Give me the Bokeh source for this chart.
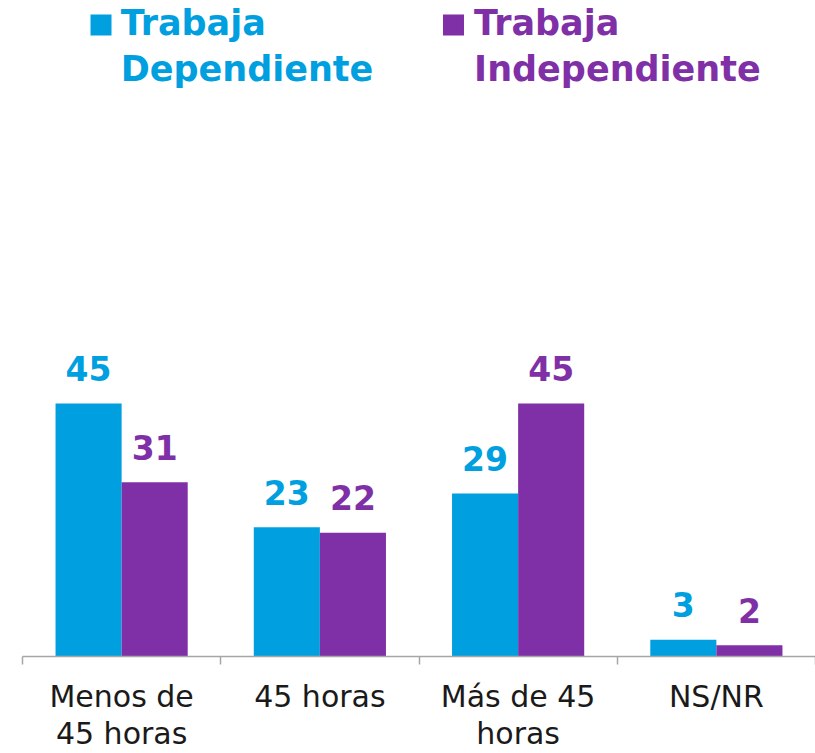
from bokeh.plotting import figure
from bokeh.models import Range1d, LinearAxis, FixedTicker, ColumnDataSource
from bokeh.transform import dodge
from bokeh.core.properties import value
from bokeh.embed import file_html
from bokeh.resources import INLINE

# ---- data ----
categories = ["Menos de\n45 horas", "45 horas", "Más de 45\nhoras", "NS/NR"]
series_names = ["Trabaja\nDependiente", "Trabaja\nIndependiente"]
dependiente = [45, 23, 29, 3]
independiente = [31, 22, 45, 2]
colors = ["#00A0E0", "#7F30A6"]

FONT = "DejaVu Sans"
n = len(categories)
PX_PER_UNIT = 253 / 45.0
FRAME_H = 656
FRAME_W = 793

centers = [i + 0.5 for i in range(n)]
src = ColumnDataSource(dict(
    cx=centers,
    dep=dependiente,
    ind=independiente,
    dep_lbl=[str(v) for v in dependiente],
    ind_lbl=[str(v) for v in independiente],
))

p = figure(frame_width=FRAME_W, frame_height=FRAME_H,
           x_range=Range1d(0, n),
           y_range=Range1d(0, FRAME_H / PX_PER_UNIT),
           output_backend="svg", toolbar_location=None,
           min_border_left=22, min_border_right=0, min_border_top=0,
           min_border_bottom=0,
           outline_line_color=None,
           x_axis_location=None, y_axis_location=None)
for g in p.grid:
    g.visible = False
p.background_fill_color = "white"
p.border_fill_color = "white"

bw = 1 / 3
p.vbar(x=dodge("cx", -bw / 2), top="dep", width=bw, source=src,
       fill_color=colors[0], line_color=None)
p.vbar(x=dodge("cx", bw / 2), top="ind", width=bw, source=src,
       fill_color=colors[1], line_color=None)

p.text(x=dodge("cx", -bw / 2), y="dep", text="dep_lbl", source=src,
       text_align="center", text_baseline="alphabetic", y_offset=-35,
       text_font=value(FONT), text_font_style="bold", text_font_size="33px",
       text_color=colors[0])
p.text(x=dodge("cx", bw / 2), y="ind", text="ind_lbl", source=src,
       text_align="center", text_baseline="alphabetic", y_offset=-35,
       text_font=value(FONT), text_font_style="bold", text_font_size="33px",
       text_color=colors[1])

# axis with boundary ticks
ax = LinearAxis(ticker=FixedTicker(ticks=centers, minor_ticks=list(range(n + 1))),
                major_label_overrides={c: lab for c, lab in zip(centers, categories)},
                major_tick_in=0, major_tick_out=0,
                minor_tick_in=0, minor_tick_out=8,
                axis_line_color="#A6A6A6", axis_line_width=1.5,
                minor_tick_line_color="#A6A6A6", minor_tick_line_width=1.5,
                major_label_text_font=FONT, major_label_text_font_size="30px",
                major_label_text_color="#1A1A1A", major_label_standoff=14,
                major_label_text_line_height=1.08)
p.add_layout(ax, "below")

# legend
leg_x_sq = [0.396, 2.174]
leg_x_tx = [0.495, 2.278]
sq_y = (FRAME_H - 24.5) / PX_PER_UNIT
tx_y = (FRAME_H - 2.4) / PX_PER_UNIT
p.scatter(x=leg_x_sq, y=[sq_y, sq_y], marker="square", size=21,
          fill_color=colors, line_color=None)
p.text(x=leg_x_tx, y=[tx_y, tx_y], text=series_names,
       text_align="left", text_baseline="top", text_line_height=1.15,
       text_font=value(FONT), text_font_style="bold", text_font_size="35px",
       text_color=colors)

open("out.html", "w").write(file_html(p, INLINE))
